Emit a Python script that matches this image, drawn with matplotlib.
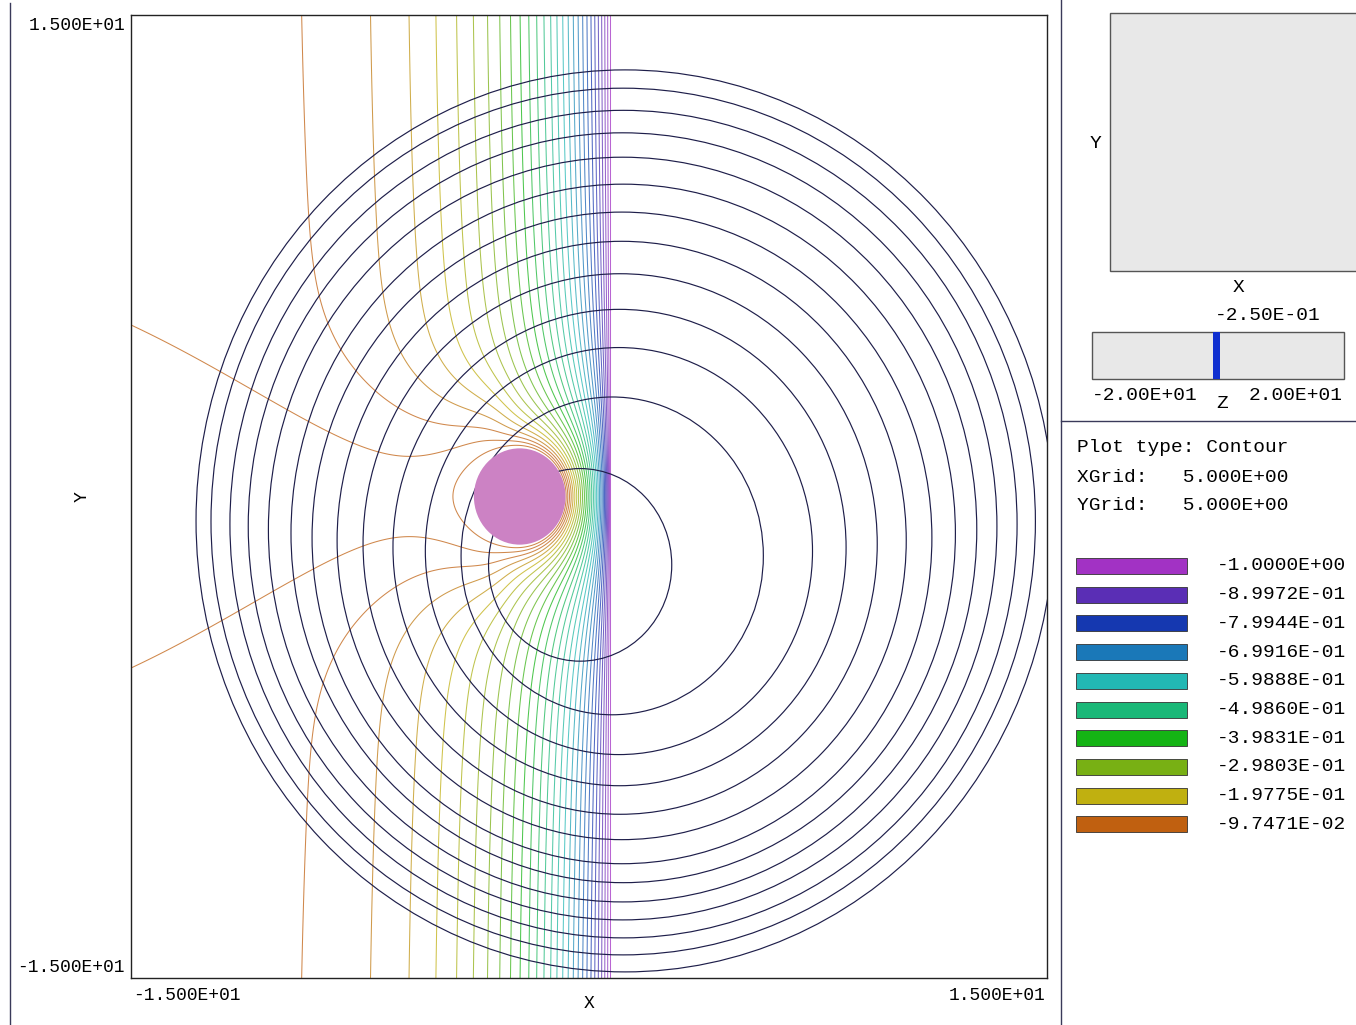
import numpy as np
import matplotlib
matplotlib.use("Agg")
import matplotlib.pyplot as plt
from matplotlib.colors import LinearSegmentedColormap
from matplotlib.patches import Circle, Rectangle
from matplotlib.lines import Line2D

W, H = 1356, 1025
plt.rcParams['font.family'] = ['Liberation Mono', 'DejaVu Sans Mono']

# legend (contour values and colours)
legend_values = [-1.0000, -0.89972, -0.79944, -0.69916, -0.59888,
                 -0.49860, -0.39831, -0.29803, -0.19775, -0.097471]
legend_labels = ["-1.0000E+00", "-8.9972E-01", "-7.9944E-01", "-6.9916E-01",
                 "-5.9888E-01", "-4.9860E-01", "-3.9831E-01", "-2.9803E-01",
                 "-1.9775E-01", "-9.7471E-02"]
legend_colors = ["#a232c4", "#5a2eb5", "#1538b0", "#1a78b8", "#22b8b4",
                 "#1ab878", "#14b414", "#78b014", "#c0b010", "#c06010"]
lines_per_band = 3

# geometry: sphere (electrode near 0) and plane electrode at -1
sphere_x, sphere_y, sphere_r = -2.27, 0.0, 1.5
plane_x = 0.7

# field shape parameters (fitted by eye to the line positions)
far_value = 0.07      # potential magnitude far to the left
decay_len = 2.95      # decay length away from the plane
sphere_pow = 1.5      # fall-off of the sphere's influence
tube_far, tube_len = 0.42, 3.0      # strength of the low-field tube left of the sphere
tube_w0, tube_wslope = 2.4, 0.17    # tube half width and its growth to the left
plane_skin = 0.4

# dark outlines (centre x, centre y, radius)
circ_x = [-0.29, 0.76, 0.98, 1.00, 1.02, 1.07, 1.08, 1.12, 1.10, 1.10, 1.13, 1.12, 1.18]
circ_y = [-2.13, -1.85, -1.70, -1.59, -1.48, -1.37, -1.29, -1.15, -1.03, -0.93, -0.86, -0.78, -0.76]
circ_r = [3.00, 4.95, 6.34, 7.42, 8.42, 9.32, 10.15, 10.88, 11.60, 12.26, 12.89, 13.50, 14.05]

# potential on a grid
x = np.linspace(-15, 15, 901)
y = np.linspace(-15, 15, 901)
X, Y = np.meshgrid(x, y)
d = plane_x - X
f = far_value + (1 - far_value) * np.exp(-d / decay_len)
r = np.hypot(X - sphere_x, Y - sphere_y) + 1e-9
q_sphere = (sphere_r / r) ** sphere_pow
left = np.clip(sphere_x - X, 0, None)
amp = tube_far + (1 - tube_far) * np.exp(-left / tube_len)
width = tube_w0 + tube_wslope * left
gate = 0.5 * (1 - np.tanh((X - sphere_x + 0.5) / 0.7))
q_tube = amp * np.exp(-((Y - sphere_y) / width) ** 2) * gate
Q = 1 - (1 - q_sphere) * (1 - q_tube)
w = 1 - np.exp(-np.clip(d, 0, None) / plane_skin)
phi = -f * (1 - Q * w)

step = (legend_values[1] - legend_values[0]) / lines_per_band
levels = legend_values[0] + step * np.arange(len(legend_values) * lines_per_band)

cmap = LinearSegmentedColormap.from_list(
    "fp", list(zip(np.linspace(0, 1, len(legend_colors)), legend_colors)))
lv_norm = np.clip((levels - legend_values[0]) / (legend_values[-1] - legend_values[0]), 0, 1)
line_colors = [cmap(v) for v in lv_norm]

fig = plt.figure(figsize=(W / 100, H / 100), dpi=100)
fig.patch.set_facecolor("white")


def fx(px):
    return px / W


def fy(py):
    return 1 - py / H


ax = fig.add_axes([fx(131), fy(978), fx(1047) - fx(131), fy(15) - fy(978)])
ax.contour(X, Y, phi, levels=levels, colors=line_colors, linewidths=0.75, alpha=0.75, zorder=2)

for cx, cy, cr in zip(circ_x, circ_y, circ_r):
    ax.add_patch(Circle((cx, cy), cr, fill=False, edgecolor="#1e1e4a", linewidth=0.85, zorder=3))

ax.add_patch(Circle((sphere_x, sphere_y), sphere_r, facecolor="#cc82c4", edgecolor="none", zorder=5))

ax.set_xlim(-15, 15)
ax.set_ylim(-15, 15)
ax.set_xticks([])
ax.set_yticks([])
for s in ax.spines.values():
    s.set_linewidth(1.0)
    s.set_color("#222222")

# corner labels
fs = 13
fig.text(fx(125), fy(25), "1.500E+01", ha="right", va="center", fontsize=fs)
fig.text(fx(125), fy(968), "-1.500E+01", ha="right", va="center", fontsize=fs)
fig.text(fx(133), fy(995), "-1.500E+01", ha="left", va="center", fontsize=fs)
fig.text(fx(1045), fy(995), "1.500E+01", ha="right", va="center", fontsize=fs)
fig.text(fx(589), fy(1004), "X", ha="center", va="center", fontsize=fs)
fig.text(fx(82), fy(497), "Y", ha="center", va="center", fontsize=fs, rotation=90)

# frame lines
border = "#3a3a5a"
fig.add_artist(Line2D([fx(10), fx(10)], [fy(3), fy(1025)], color=border, lw=1.0))
fig.add_artist(Line2D([fx(1061), fx(1061)], [fy(0), fy(1025)], color=border, lw=1.0))
fig.add_artist(Line2D([fx(1061), fx(1356)], [fy(421), fy(421)], color=border, lw=1.0))

# view box
fig.add_artist(Rectangle((fx(1110), fy(271)), fx(1360) - fx(1110), fy(13) - fy(271),
                         transform=fig.transFigure, facecolor="#e8e8e8", edgecolor="#555555", lw=1.0))
fig.text(fx(1095), fy(143), "Y", ha="center", va="center", fontsize=14)
fig.text(fx(1239), fy(287), "X", ha="center", va="center", fontsize=14)

# z slider
z_min, z_max, z_cut = -20.0, 20.0, -0.25
sx0, sx1 = 1092, 1344
fig.add_artist(Rectangle((fx(sx0), fy(379)), fx(sx1) - fx(sx0), fy(332) - fy(379),
                         transform=fig.transFigure, facecolor="#e8e8e8", edgecolor="#555555", lw=1.0))
zpx = sx0 + (z_cut - z_min) / (z_max - z_min) * (sx1 - sx0)
fig.add_artist(Rectangle((fx(zpx - 3), fy(379)), fx(7), fy(332) - fy(379),
                         transform=fig.transFigure, facecolor="#1030d0", edgecolor="none"))
fig.text(fx(1268), fy(316), "-2.50E-01", ha="center", va="center", fontsize=14)
fig.text(fx(1145), fy(395), "-2.00E+01", ha="center", va="center", fontsize=14)
fig.text(fx(1296), fy(395), "2.00E+01", ha="center", va="center", fontsize=14)
fig.text(fx(1222), fy(404), "Z", ha="center", va="center", fontsize=14)

# info text
fig.text(fx(1077), fy(448), "Plot type: Contour", ha="left", va="center", fontsize=14)
fig.text(fx(1077), fy(477), "XGrid:   5.000E+00", ha="left", va="center", fontsize=14)
fig.text(fx(1077), fy(505), "YGrid:   5.000E+00", ha="left", va="center", fontsize=14)

# legend
for i, (lab, col) in enumerate(zip(legend_labels, legend_colors)):
    yc = 566 + i * 28.7
    fig.add_artist(Rectangle((fx(1076), fy(yc + 8)), fx(111), fy(yc - 8) - fy(yc + 8),
                             transform=fig.transFigure, facecolor=col, edgecolor="#333333", lw=0.6))
    fig.text(fx(1346), fy(yc), lab, ha="right", va="center", fontsize=14)

fig.savefig("out.png", dpi=100)
